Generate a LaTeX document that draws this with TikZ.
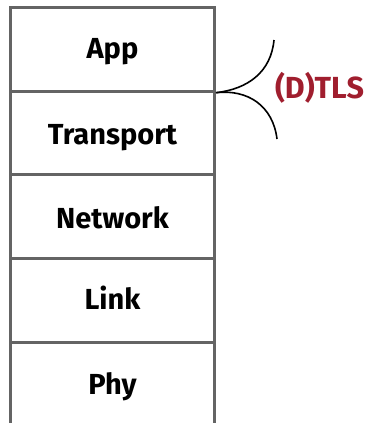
\documentclass[tikz,border=0pt]{standalone}
\usepackage{fontspec}
\setmainfont{Fira Sans}
\definecolor{layerline}{RGB}{100,100,100}
\definecolor{tlsred}{RGB}{160,30,46}
\begin{document}
\begin{tikzpicture}[x=1pt,y=-1pt,
  layer/.style={draw=layerline, line width=3pt, fill=white, minimum width=204pt,
    minimum height=83.7pt, inner sep=0pt, anchor=north west},
  lbl/.style={font=\fontsize{29}{29}\selectfont\bfseries, text height=20.5pt, text depth=0pt, inner sep=0pt},
  brace/.style={line width=1.6pt, black}]
\useasboundingbox (0,0) rectangle (371,423);
\node[layer] (app) at (9,6) {};
\node[layer] (transport) at (9,89.7) {};
\node[layer] (network) at (9,173.4) {};
\node[layer] (link) at (9,257.1) {};
\node[layer, minimum height=90pt] (phy) at (9,340.8) {};
\node[lbl] at ([yshift=1pt]app.center) {App};
\node[lbl] at ([yshift=-1pt]transport.center) {Transport};
\node[lbl] at ([yshift=-1pt]network.center) {Network};
\node[lbl] at ([yshift=1pt]link.center) {Link};
\node[lbl] at ([yshift=3.5pt]phy.center) {Phy};
% bracket marking where (D)TLS sits
\coordinate (j) at (app.south east);
\coordinate (top) at (274,40);
\coordinate (bot) at (277,139);
\draw[brace] (j) .. controls (248,89) and (271,72) .. (top);
\draw[brace] (j) .. controls (248,89) and (273,106) .. (bot);
\node[font=\fontsize{30.5}{30.5}\selectfont\bfseries, text=tlsred, text height=21pt, text depth=0pt, inner sep=0pt] (tls) at (319.5,88) {(D)TLS};
\end{tikzpicture}
\end{document}
